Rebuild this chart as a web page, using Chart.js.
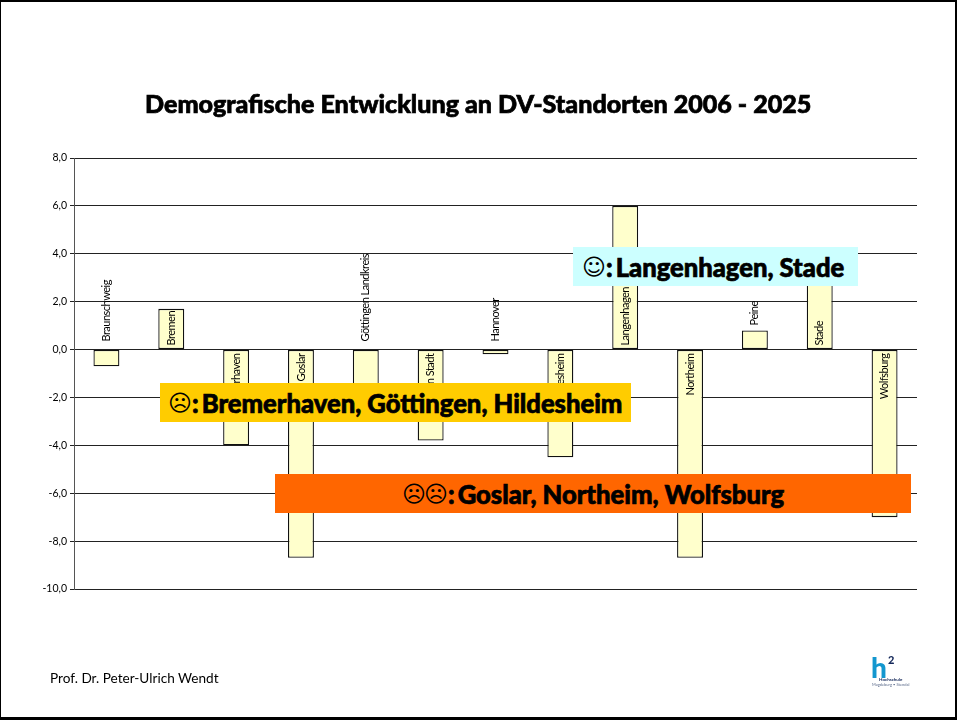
<!DOCTYPE html>
<html><head><meta charset="utf-8">
<script src="https://cdn.jsdelivr.net/npm/chart.js@4"></script>
<style>
html,body{margin:0;padding:0;background:#fff;overflow:hidden}
#page{position:relative;width:957px;height:720px;box-sizing:border-box;border:solid #000;border-width:2px 2px 3px 1px;overflow:hidden}
#wrap{position:absolute;left:-1px;top:-2px;width:957px;height:720px}
canvas{display:block}
.t{position:absolute;white-space:nowrap;color:#000}
.box{position:absolute;display:flex;align-items:center;font:900 25.6px Lato,sans-serif;-webkit-text-stroke:.7px #000;color:#000;box-sizing:border-box;white-space:pre}
.s{font:400 23px "DejaVu Sans",sans-serif;-webkit-text-stroke:0;letter-spacing:-2px;margin-right:2px}
.c{margin-right:3px}
</style></head><body>
<div id="page"><div id="wrap">
<canvas id="c" width="957" height="720"></canvas>
<div class="t" style="left:145px;top:88px;font:900 25.1px Lato,sans-serif;-webkit-text-stroke:.7px #000">Demografische Entwicklung an DV-Standorten 2006 - 2025</div>
<div class="box" style="left:573px;top:247px;width:285px;height:39px;background:#ccffff;padding-left:9px"><span class="s">☺</span><span class="c">:</span>Langenhagen, Stade</div>
<div class="box" style="left:160px;top:383px;width:471px;height:39px;background:#ffcc00;padding-left:8px"><span class="s">☹</span><span class="c">:</span>Bremerhaven, Göttingen, Hildesheim</div>
<div class="box" style="left:275px;top:474px;width:636px;height:39px;background:#ff6600;padding-left:127px"><span class="s">☹☹</span><span class="c">:</span>Goslar, Northeim, Wolfsburg</div>
<div class="t" style="left:50px;top:670px;font:400 13.6px Lato,sans-serif;">Prof. Dr. Peter-Ulrich Wendt</div>
<div class="t" style="left:871px;top:653px;font:900 28px/28px Lato,sans-serif;color:#1397cf">h</div>
<div class="t" style="left:888px;top:654px;font:900 11px/11px Lato,sans-serif;color:#14285a">2</div>
<div class="t" style="left:879px;top:677px;font:700 4.5px/5px Lato,sans-serif;color:#14285a">Hochschule</div>
<div class="t" style="left:872px;top:682px;font:400 4px/5px Lato,sans-serif;color:#5a6a8a">Magdeburg • Stendal</div>
</div></div>
<script>
const categories = ["Braunschweig","Bremen","Bremerhaven","Goslar","Göttingen Landkreis","Göttingen Stadt","Hannover","Hildesheim","Langenhagen","Northeim","Peine","Stade","Wolfsburg"];
const seriesValues = [-0.7,1.7,-4.0,-8.7,-2.5,-3.8,-0.2,-4.5,6.0,-8.7,0.8,3.0,-7.0];
const tickValues = [8,6,4,2,0,-2,-4,-6,-8,-10];

const labelFont = '400 11px "Lato",sans-serif';
const barLabels = {
  id:'barLabels',
  afterDatasetsDraw(chart){
    const {ctx,scales:{y}} = chart;
    const meta = chart.getDatasetMeta(0);
    const zero = y.getPixelForValue(0);
    ctx.save();
    ctx.font = labelFont;
    ctx.letterSpacing = '-0.5px';
    ctx.fillStyle = '#000';
    meta.data.forEach((bar,i)=>{
      const name = categories[i], v = seriesValues[i];
      const len = ctx.measureText(name).width;
      const room = Math.abs(y.getPixelForValue(v)-zero);
      const fits = len+4 < room;
      ctx.save();
      ctx.translate(bar.x, zero);
      ctx.rotate(-Math.PI/2);
      ctx.textBaseline='middle';
      if (v<0 && fits){ ctx.textAlign='right'; ctx.fillText(name,-4,0); }
      else if (v>0 && fits){ ctx.textAlign='left'; ctx.fillText(name,4,0); }
      else { ctx.textAlign='left'; ctx.fillText(name,v>0?room+5:8,0); }
      ctx.restore();
    });
    ctx.restore();
  }
};
new Chart(document.getElementById('c'),{
  type:'bar',
  data:{labels:categories,datasets:[{data:seriesValues,backgroundColor:'#ffffcc',borderColor:'#111',borderWidth:1.3,categoryPercentage:1,barPercentage:0.4,borderSkipped:false}]},
  options:{
    responsive:false,animation:false,
    layout:{padding:{left:0,right:40,top:158,bottom:131}},
    plugins:{legend:{display:false},tooltip:{enabled:false}},
    scales:{
      x:{display:false},
      y:{min:-10,max:8,afterBuildTicks(s){s.ticks=tickValues.map(v=>({value:v}));},afterFit(s){s.width=74;},
        ticks:{padding:3,color:'#000',font:{family:'Lato',size:10.5},callback:v=>v.toFixed(1).replace('.',',')},
        grid:{color:'#222',lineWidth:1,tickLength:4,drawTicks:true},border:{color:'#555',width:1}}
    }
  },
  plugins:[barLabels]
});
</script>
</body></html>
